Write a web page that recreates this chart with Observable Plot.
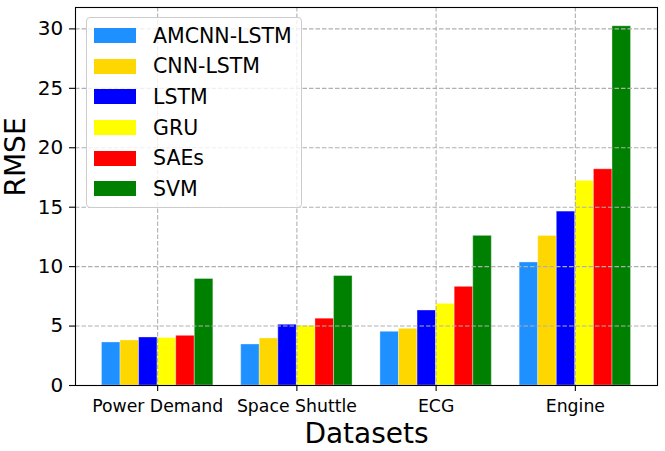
<!DOCTYPE html>
<html>
<head>
<meta charset="utf-8">
<script src="https://cdn.jsdelivr.net/npm/d3@7"></script>
<script src="https://cdn.jsdelivr.net/npm/@observablehq/plot@0.6"></script>
<style>
  html, body { margin: 0; padding: 0; background: white; }
  #wrap { position: relative; width: 665px; height: 451px; font-family: "DejaVu Sans", sans-serif; }
  #legend {
    position: absolute; left: 86px; top: 17px; width: 216px; height: 191px;
    border: 1px solid #cccccc; border-radius: 4px; background: rgba(255,255,255,0.8);
    box-sizing: border-box;
  }
  .row { position: absolute; left: 7px; height: 20px; display: flex; align-items: center; }
  .sw { width: 42px; height: 15px; margin-right: 17px; }
  .lab { font-size: 20.5px; color: black; white-space: nowrap; line-height: 20px; }
</style>
</head>
<body>
<div id="wrap"></div>
<script>
const datasets = ["Power Demand", "Space Shuttle", "ECG", "Engine"];
const models = ["AMCNN-LSTM", "CNN-LSTM", "LSTM", "GRU", "SAEs", "SVM"];
const colors = ["#1E90FF", "#FFD700", "#0000FF", "#FFFF00", "#FF0000", "#008000"];
const amcnnLstm = [3.62, 3.45, 4.52, 10.35];
const cnnLstm   = [3.79, 3.96, 4.77, 12.58];
const lstm      = [4.04, 5.11, 6.31, 14.63];
const gru       = [4.00, 5.03, 6.87, 17.21];
const saes      = [4.18, 5.62, 8.30, 18.19];
const svm       = [8.96, 9.21, 12.59, 30.22];
const yTicks = [0, 5, 10, 15, 20, 25, 30];

const series = [amcnnLstm, cnnLstm, lstm, gru, saes, svm];
const groupWidth = 0.8;
const barW = groupWidth / models.length;
const rows = [];
series.forEach((vals, j) => {
  vals.forEach((v, i) => {
    const c = i + (j - (models.length - 1) / 2) * barW;
    rows.push({dataset: datasets[i], model: models[j], value: v, x1: c - barW / 2, x2: c + barW / 2});
  });
});

const chart = Plot.plot({
  width: 665,
  height: 451,
  marginLeft: 75,
  marginRight: 8,
  marginTop: 7,
  marginBottom: 66,
  style: {fontFamily: "DejaVu Sans, sans-serif", color: "black", background: "white", overflow: "visible"},
  x: {domain: [-0.59, datasets.length - 1 + 0.59]},
  y: {domain: [0, 31.8]},
  color: {domain: models, range: colors},
  marks: [
    Plot.rectY(rows, {x1: "x1", x2: "x2", y1: 0, y2: "value", fill: "model", stroke: "white", strokeOpacity: 0.35, strokeWidth: 1}),
    Plot.gridX({ticks: datasets.map((d, i) => i), stroke: "#b0b0b0", strokeOpacity: 1, strokeWidth: 1.1, strokeDasharray: "4.5,2"}),
    Plot.gridY({ticks: yTicks, stroke: "#b0b0b0", strokeOpacity: 1, strokeWidth: 1.1, strokeDasharray: "4.5,2"}),
    Plot.axisX({ticks: datasets.map((d, i) => i), tickFormat: i => datasets[i], tickSize: 6, tickPadding: 8.5, fontSize: 17.3, label: null, strokeWidth: 1.1}),
    Plot.axisY({ticks: yTicks, tickSize: 6, tickPadding: 6.3, fontSize: 20, label: null, strokeWidth: 1.1}),
    Plot.frame({stroke: "black", strokeWidth: 1.1}),
    Plot.text(["Datasets"], {frameAnchor: "bottom", dy: 57, lineAnchor: "bottom", fontSize: 28, fill: "black"}),
    Plot.text(["RMSE"], {frameAnchor: "left", dx: -59, rotate: -90, fontSize: 28, fill: "black"})
  ]
});

const wrap = document.getElementById("wrap");
wrap.appendChild(chart);

const legend = document.createElement("div");
legend.id = "legend";
const rowCenters = [17.7, 48.3, 78.9, 109.5, 140.1, 170.7];
models.forEach((m, j) => {
  const r = document.createElement("div");
  r.className = "row";
  r.style.top = (rowCenters[j] - 10) + "px";
  const sw = document.createElement("div");
  sw.className = "sw";
  sw.style.background = colors[j];
  const lab = document.createElement("span");
  lab.className = "lab";
  lab.textContent = m;
  r.appendChild(sw);
  r.appendChild(lab);
  legend.appendChild(r);
});
wrap.appendChild(legend);
</script>
</body>
</html>
